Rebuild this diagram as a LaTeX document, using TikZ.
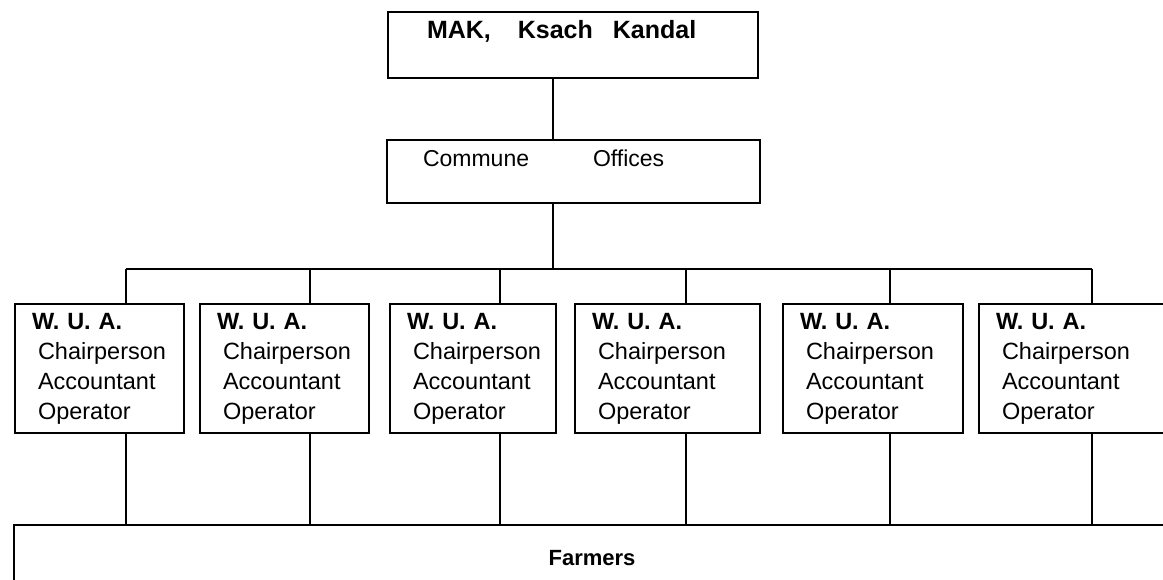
\documentclass[tikz,border=0pt]{standalone}
\usepackage{fontspec}
\setmainfont{Liberation Sans}
\usetikzlibrary{positioning}

\newcommand{\wuatext}{\mbox{\textbf{W. U. A.}}\\\mbox{\hspace*{6pt}Chairperson}\\\mbox{\hspace*{6pt}Accountant}\\\mbox{\hspace*{6pt}Operator}}

\begin{document}
\begin{tikzpicture}[x=1pt,y=-1pt,
  line width=2pt,
  font=\fontsize{22}{26}\selectfont,
  unit/.style={draw,rectangle,inner sep=0pt},
  wua/.style={unit,anchor=north west,minimum height=129pt,align=left,
    inner xsep=17pt,font=\fontsize{23.5}{30}\selectfont},
  inbox/.style={anchor=base west,inner sep=0pt},
]
\useasboundingbox (0,0) rectangle (1163,580);
\clip (0,0) rectangle (1163,580);

% the upper offices
\node[unit,minimum width=370pt,minimum height=66pt,
  label={[inbox,xshift=39pt,yshift=-28pt,font=\bfseries\fontsize{25}{28}\selectfont]north west:MAK,\hspace{27pt}Ksach\hspace{20pt}Kandal}]
  (mak) at (573,45) {};
\node[unit,minimum width=373pt,minimum height=63pt,
  label={[inbox,xshift=36pt,yshift=-28pt,font=\fontsize{23}{26}\selectfont]north west:Commune\hspace{64pt}Offices}]
  (commune) at (573.5,171.5) {};

% the farmers
\node[unit,minimum width=1156pt,minimum height=67pt,font=\bfseries\fontsize{22}{26}\selectfont]
  (farmers) at (592,558.5) {Farmers};

% the bus
\coordinate (trunk) at (553,269);
\draw (trunk |- mak.south) -- (trunk |- commune.north);
\draw (trunk |- commune.south) -- (trunk);

% the water user associations
\foreach \i/\x/\tw/\d in {1/14/135/126, 2/199/135/310, 3/389/132/500,
                          4/574/151/686, 5/782/146/890, 6/978/166/1092}
{
  \node[wua,text width=\tw pt] (w\i) at (\x,303) {\wuatext};
  \coordinate (top\i) at (\d,269);
  \draw (top\i) -- (top\i |- w\i.north);
  \draw (top\i |- w\i.south) -- (top\i |- farmers.north);
}
\draw (top1) -- (top6);
\end{tikzpicture}
\end{document}
